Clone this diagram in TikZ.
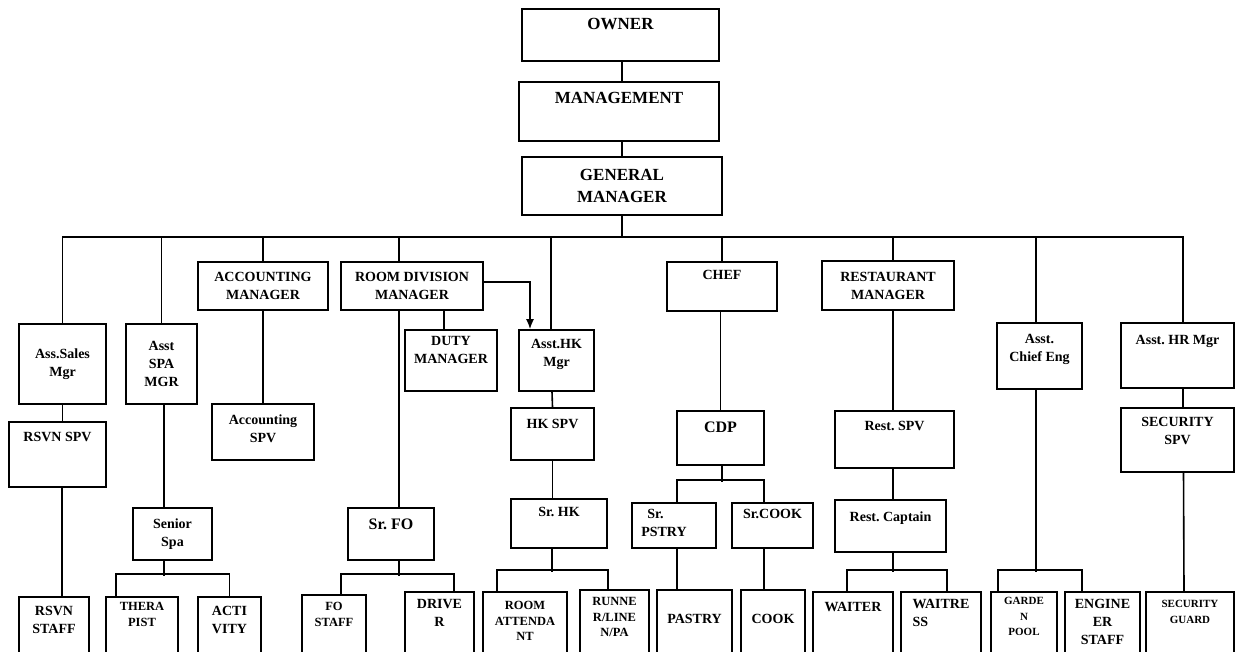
\documentclass[tikz,border=0pt]{standalone}
\usepackage{fontspec}
\setmainfont{Liberation Serif}
\usetikzlibrary{arrows.meta,positioning}

\begin{document}
\frenchspacing
\begin{tikzpicture}[x=1pt, y=-1pt,
    fbig/.style={font=\bfseries\fontsize{17}{21.5}\selectfont},
    fmid/.style={font=\bfseries\fontsize{16}{20}\selectfont},
    fnorm/.style={font=\bfseries\fontsize{14}{18}\selectfont},
    fsm/.style={font=\bfseries\fontsize{12.5}{15.5}\selectfont},
    fxs/.style={font=\bfseries\fontsize{11}{15.5}\selectfont},
    box/.style={draw, line width=1.6pt, inner sep=0pt, align=center, fnorm},
    txt/.style={anchor=north, yshift=-#1, inner sep=0pt, align=center, fnorm},
    txt/.default=10,
    link/.style={line width=1.6pt},
  ]
  \useasboundingbox (0,0) rectangle (1236,652);
  \clip (0,0) rectangle (1236,652);

  % top of the hotel
  \node[box, minimum width=197, minimum height=52, label={[txt, fbig]north:OWNER}] (owner) at (620.5,35) {};
  \node[box, minimum width=200, minimum height=59, label={[txt=11, fbig]north:MANAGEMENT}] (mgmt) at (619,111.5) {};
  \node[box, fbig, minimum width=200, minimum height=58] (gm) at (622,186) {GENERAL\\MANAGER};

  % department heads
  \node[box, minimum width=87, minimum height=80] (asm) at (62.5,364) {Ass.Sales\\Mgr};
  \node[box, minimum width=71, minimum height=80] (spa) at (161.5,364) {Asst\\SPA\\MGR};
  \node[box, minimum width=130, minimum height=48] (accm) at (263,286) {ACCOUNTING\\MANAGER};
  \node[box, minimum width=142, minimum height=48] (rdm) at (412,286) {ROOM DIVISION\\MANAGER};
  \node[box, minimum width=92, minimum height=61, label={[txt=7]north:{DUTY\\MANAGER}}] (duty) at (451,360.5) {};
  \node[box, minimum width=75, minimum height=61, label={[txt]north:{Asst.HK\\Mgr}}] (ahk) at (556.5,360.5) {};
  \node[box, minimum width=110, minimum height=49, label={[txt=9]north:CHEF}] (chef) at (722,286.5) {};
  \node[box, minimum width=132, minimum height=49] (restm) at (888,285.5) {RESTAURANT\\MANAGER};
  \node[box, minimum width=85, minimum height=66, label={[txt=12]north:{Asst.\\Chief Eng}}] (ace) at (1039.5,356) {};
  \node[box, minimum width=113, minimum height=65, label={[txt=13]north:Asst. HR Mgr}] (ahr) at (1177.5,355.5) {};

  % supervisors
  \node[box, minimum width=97, minimum height=65, label={[txt=11]north:RSVN SPV}] (rsvn) at (57.5,454.5) {};
  \node[box, minimum width=102, minimum height=56, label={[txt=11]north:{Accounting\\SPV}}] (accspv) at (263,432) {};
  \node[box, minimum width=83, minimum height=52, label={[txt=12]north:HK SPV}] (hkspv) at (552.5,434) {};
  \node[box, minimum width=87, minimum height=54, label={[txt=12, fmid]north:CDP}] (cdp) at (720.5,438) {};
  \node[box, minimum width=119, minimum height=57, label={[txt=11]north:Rest. SPV}] (rspv) at (894.5,439.5) {};
  \node[box, minimum width=113, minimum height=64, label={[txt=10]north:{SECURITY\\SPV}}] (secspv) at (1177.5,440) {};

  % seniors
  \node[box, minimum width=79, minimum height=52] (senspa) at (172.5,534) {Senior\\Spa};
  \node[box, minimum width=86, minimum height=52, label={[txt=12, fmid]north:Sr. FO}] (srfo) at (391,534) {};
  \node[box, minimum width=96, minimum height=49, label={[txt=9]north:Sr. HK}] (srhk) at (559,523.5) {};
  \node[box, minimum width=84, minimum height=45, label={[txt=7, align=left, xshift=-10]north:{\hspace*{6pt}Sr.\\PSTRY}}] (srps) at (674,525.5) {};
  \node[box, minimum width=81, minimum height=45, label={[txt=7]north:Sr.COOK}] (srck) at (772.5,525.5) {};
  \node[box, minimum width=111, minimum height=52, label={[txt=12]north:Rest. Captain}] (rcap) at (890.5,526) {};

  % staff (cut off at the bottom)
  \node[box, minimum width=70, minimum height=70, label={[txt=10]north:{RSVN\\STAFF}}] (rstaff) at (54,632) {};
  \node[box, minimum width=72, minimum height=70, label={[txt=6, fsm]north:{THERA\\PIST}}] (ther) at (142,632) {};
  \node[box, minimum width=63, minimum height=70, label={[txt=10]north:{ACTI\\VITY}}] (act) at (229.5,632) {};
  \node[box, minimum width=64, minimum height=70, label={[txt=8, fsm]north:{FO\\STAFF}}] (fost) at (334,630) {};
  \node[box, minimum width=69, minimum height=70, label={[txt=8]north:{DRIVE\\R}}] (drv) at (439.5,627) {};
  \node[box, minimum width=84, minimum height=70, label={[txt=10, fsm]north:{ROOM\\ATTENDA\\NT}}] (ratt) at (525,627) {};
  \node[box, minimum width=69, minimum height=70, label={[txt=8, fsm]north:{RUNNE\\R/LINE\\N/PA}}] (runr) at (614.5,625) {};
  \node[box, minimum width=75, minimum height=70, label={[txt=25]north:PASTRY}] (pastry) at (694.5,625) {};
  \node[box, minimum width=64, minimum height=70, label={[txt=25]north:COOK}] (cook) at (773,625) {};
  \node[box, minimum width=80, minimum height=70, label={[txt=11]north:WAITER}] (waiter) at (853,627) {};
  \node[box, minimum width=80, minimum height=70, label={[txt=8, align=left]north:{WAITRE\\SS}}] (waitress) at (941,627) {};
  \node[box, minimum width=66, minimum height=70, label={[txt=6, fxs]north:{GARDE\\N\\POOL}}] (garden) at (1024,627) {};
  \node[box, minimum width=75, minimum height=70, label={[txt=8]north:{ENGINE\\ER\\STAFF}}] (eng) at (1102.5,627) {};
  \node[box, minimum width=88, minimum height=70, label={[txt=9, fxs]north:{SECURITY\\GUARD}}] (guard) at (1190,627) {};

  % lines from the top
  \coordinate (bus) at (622,237);
  \draw[link] ([xshift=1.5]owner.south) -- ([xshift=3]mgmt.north);
  \draw[link] ([xshift=3]mgmt.south) -- (gm.north);
  \draw[link] (gm) -- (bus);
  \draw[link] (asm.north) |- (bus) -| ([xshift=5.5]ahr.north);
  \draw[link] (spa.north) -- (spa.north |- bus);
  \draw[link] (accm.north) -- (accm.north |- bus);
  \draw[link] ([xshift=-13]rdm.north) -- ++(0,-25);
  \draw[link] ([xshift=-5.5]ahk.north) -- ++(0,-93);
  \draw[link] (chef.north) -- (chef.north |- bus);
  \draw[link] ([xshift=5]restm.north) -- ++(0,-24);
  \draw[link] ([xshift=-3.5]ace.north) -- ++(0,-86);

  % room division
  \draw[link, -{Latex[length=10pt, width=8pt]}] ([yshift=4]rdm.east) -| ([xshift=-26.5]ahk.north);
  \draw[link] ([xshift=-7]duty.north) -- ++(0,-20);
  \draw[link] ([xshift=-13]rdm.south) -- ([xshift=8]srfo.north);
  \draw[link] ([xshift=8]srfo.south) -- ++(0,15);
  \draw[link] ([xshift=7]fost.north) -- ++(0,-20) -| ([xshift=14.5]drv.north);
  \draw[link] ([xshift=-4.5]ahk.south) -- (hkspv.north);
  \draw[link] (hkspv.south) -- ([xshift=-6.5]srhk.north);
  \draw[link] ([xshift=-7]srhk.south) -- ++(0,23);
  \draw[link] ([xshift=-28]ratt.north) -- ++(0,-21) -| ([xshift=-6.5]runr.north);

  % sales, spa, accounting
  \draw[link] (asm.south) -- (asm.south |- rsvn.north);
  \draw[link] ([xshift=4.5]rsvn.south) -- ([xshift=8]rstaff.north);
  \draw[link] ([xshift=2.5]spa.south) -- ([xshift=-8.5]senspa.north);
  \draw[link] ([xshift=-8.5]senspa.south) -- ++(0,15);
  \draw[link] ([xshift=-26]ther.north) -- ++(0,-22) -| (act.north);
  \draw[link] (accm.south) -- (accspv.north);

  % kitchen
  \draw[link] ([xshift=-1.5]chef.south) -- (cdp.north);
  \draw[link] ([xshift=1.5]cdp.south) -- ++(0,16);
  \draw[link] ([xshift=3]srps.north) -- ++(0,-22) -| ([xshift=-8.5]srck.north);
  \draw[link] ([xshift=3]srps.south) -- ([xshift=-17.5]pastry.north);
  \draw[link] ([xshift=-8.5]srck.south) -- ([xshift=-9]cook.north);

  % restaurant
  \draw[link] ([xshift=5]restm.south) -- ([xshift=-1.5]rspv.north);
  \draw[link] ([xshift=-1.5]rspv.south) -- ([xshift=2.5]rcap.north);
  \draw[link] ([xshift=2.5]rcap.south) -- ++(0,19);
  \draw[link] ([xshift=-6]waiter.north) -- ++(0,-21) -| ([xshift=6]waitress.north);

  % engineering and HR
  \draw[link] ([xshift=-3.5]ace.south) -- ++(0,182);
  \draw[link] ([xshift=-26]garden.north) -- ++(0,-21) -| ([xshift=-20.5]eng.north);
  \draw[link] ([xshift=5.5]ahr.south) -- ([xshift=5.5]secspv.north);
  \draw[link] ([xshift=6]secspv.south) -- ([xshift=-6]guard.north);
\end{tikzpicture}
\end{document}
